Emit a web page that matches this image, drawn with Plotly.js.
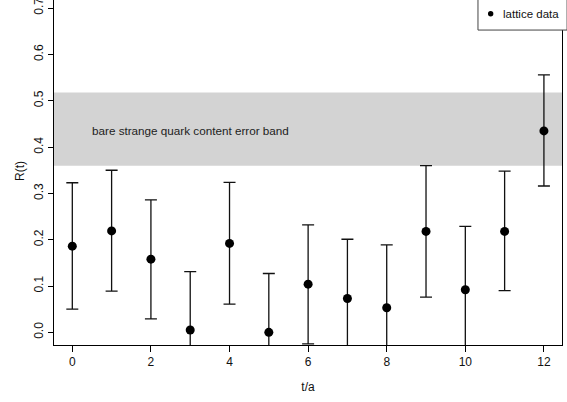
<!DOCTYPE html>
<html>
<head>
<meta charset="utf-8">
<script src="https://cdn.plot.ly/plotly-3.0.1.min.js"></script>
<style>
  html, body { margin: 0; padding: 0; background: #fff; overflow: hidden; }
  #chart { position: absolute; left: 0; top: -3px; width: 567px; height: 405px; }
</style>
</head>
<body>
<div id="chart"></div>
<script>
// Data
var tValues = [0, 1, 2, 3, 4, 5, 6, 7, 8, 9, 10, 11, 12];
var rValues = [0.186, 0.219, 0.158, 0.005, 0.192, 0.000, 0.104, 0.073, 0.053, 0.218, 0.092, 0.218, 0.435];
var rUpper  = [0.323, 0.350, 0.286, 0.131, 0.324, 0.127, 0.232, 0.201, 0.189, 0.360, 0.229, 0.348, 0.556];
var rLower  = [0.050, 0.089, 0.029, -0.121, 0.061, -0.127, -0.025, -0.055, -0.083, 0.076, -0.045, 0.090, 0.316];
var bandLow = 0.36;
var bandHigh = 0.518;
var bandLabel = "bare strange quark content error band";
var seriesName = "lattice data";
var xTicks = [0, 2, 4, 6, 8, 10, 12];
var yTicks = [0.0, 0.1, 0.2, 0.3, 0.4, 0.5, 0.6, 0.7];

var errPlus = rValues.map(function (v, i) { return rUpper[i] - v; });
var errMinus = rValues.map(function (v, i) { return v - rLower[i]; });

var font = "Liberation Sans, Arial, Helvetica, sans-serif";

var trace = {
  x: tValues,
  y: rValues,
  type: "scatter",
  mode: "markers",
  name: seriesName,
  marker: { color: "#000", size: 9, symbol: "circle" },
  error_y: {
    type: "data",
    symmetric: false,
    array: errPlus,
    arrayminus: errMinus,
    color: "#111",
    thickness: 1.3,
    width: 6
  },
  showlegend: false
};

// Legend box geometry (paper fractions of the plot area)
var legX0 = 0.8346, legY0 = 0.905;
var legMarkX = 0.8596, legMarkY = 0.952;
var legTextX = 0.8793;

var layout = {
  width: 567,
  height: 405,
  margin: { l: 54, r: 5, t: 0, b: 57 },
  paper_bgcolor: "#fff",
  plot_bgcolor: "#fff",
  font: { family: font, size: 12, color: "#111" },
  showlegend: false,
  xaxis: {
    range: [-0.466, 12.46],
    tickmode: "array",
    tickvals: xTicks,
    ticktext: xTicks.map(String),
    ticks: "outside", ticklen: 6, tickwidth: 1, tickcolor: "#000",
    showline: true, linecolor: "#000", linewidth: 1, mirror: true,
    showgrid: false, zeroline: false,
    tickfont: { family: font, size: 12, color: "#111" },
    title: { text: "t/a", font: { family: font, size: 12, color: "#111" }, standoff: 14 }
  },
  yaxis: {
    range: [-0.0274, 0.7242],
    tickmode: "array",
    tickvals: yTicks,
    ticktext: yTicks.map(function (v) { return v.toFixed(1); }),
    tickangle: -90,
    ticks: "outside", ticklen: 5, tickwidth: 1, tickcolor: "#000",
    showline: true, linecolor: "#000", linewidth: 1, mirror: true,
    showgrid: false, zeroline: false,
    tickfont: { family: font, size: 12, color: "#111" },
    title: { text: "R(t)", font: { family: font, size: 12, color: "#111" }, standoff: 5 }
  },
  shapes: [
    {
      type: "rect", layer: "below",
      xref: "paper", x0: 0, x1: 1,
      yref: "y", y0: bandLow, y1: bandHigh,
      fillcolor: "#d3d3d3", line: { width: 0 }
    },
    {
      type: "rect", layer: "above",
      xref: "paper", x0: legX0, x1: 1.01,
      yref: "paper", y0: legY0, y1: 1.05,
      fillcolor: "#fff", line: { color: "#444", width: 1 }
    },
    {
      type: "circle", layer: "above",
      xref: "paper", x0: legMarkX - 0.0053, x1: legMarkX + 0.0053,
      yref: "paper", y0: legMarkY - 0.0078, y1: legMarkY + 0.0078,
      fillcolor: "#000", line: { width: 0 }
    }
  ],
  annotations: [
    {
      x: 0.45, y: 0.435, xref: "x", yref: "y",
      xanchor: "left", yanchor: "middle",
      text: bandLabel, showarrow: false,
      font: { family: font, size: 11.7, color: "#222" }
    },
    {
      x: legTextX, y: legMarkY, xref: "paper", yref: "paper",
      xanchor: "left", yanchor: "middle",
      text: seriesName, showarrow: false,
      font: { family: font, size: 11.5, color: "#111" }
    }
  ]
};

Plotly.newPlot("chart", [trace], layout, { displayModeBar: false, staticPlot: true });
</script>
</body>
</html>
